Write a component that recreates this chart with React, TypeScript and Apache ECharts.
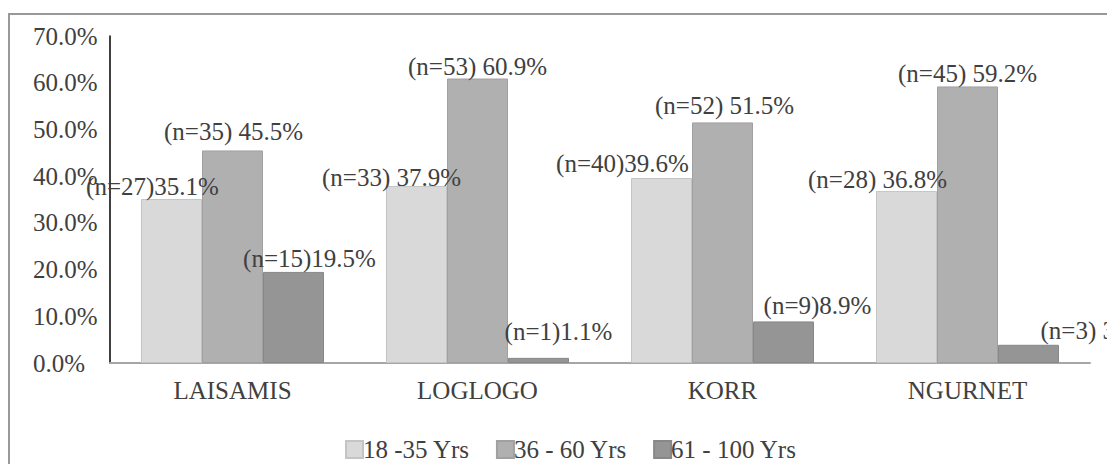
import React, { useEffect, useRef } from "react";
import * as echarts from "echarts";

const categories = ["LAISAMIS", "LOGLOGO", "KORR", "NGURNET"];
const seriesNames = ["18 -35 Yrs", "36 - 60 Yrs", "61 - 100 Yrs"];
const pct18to35 = [35.1, 37.9, 39.6, 36.8];
const pct36to60 = [45.5, 60.9, 51.5, 59.2];
const pct61to100 = [19.5, 1.1, 8.9, 3.9];
const n18to35 = [27, 33, 40, 28];
const n36to60 = [35, 53, 52, 45];
const n61to100 = [15, 1, 9, 3];
const yTicks = [0, 10, 20, 30, 40, 50, 60, 70];

// label texts as printed in the source (spacing kept)
const labelSpace18 = ["", " ", "", " "];
const labelSpace36 = [" ", " ", " ", " "];
const labelSpace61 = ["", "", "", " "];

// manual label nudges (style only)
const off18 = [[-19, 0], [-25, 4], [-39, -2], [-29, 1]];
const off36 = [[1, -6], [0, 0], [2, -4], [0, 0]];
const off61 = [[16, -1], [20, -14], [34, -3], [69, -2]];

const colors = ["#d9d9d9", "#b0b0b0", "#959595"];
const borders = ["#c4c4c4", "#a0a0a0", "#888888"];
const FONT = "Liberation Serif";
const TEXT = "#404040";
const FS = 25;
const W = 1105;
const H = 456;

export default function App() {
  const ref = useRef<HTMLDivElement>(null);
  useEffect(() => {
    if (!ref.current) return;
    document.documentElement.style.overflow = "hidden";
    document.body.style.overflow = "hidden";
    const chart = echarts.init(ref.current, null, { renderer: "svg" });
    const mk = (
      idx: number,
      vals: number[],
      ns: number[],
      spaces: string[],
      offs: number[][]
    ) => ({
      name: seriesNames[idx],
      type: "bar",
      barWidth: 61,
      barGap: "0%",
      itemStyle: { color: colors[idx], borderColor: borders[idx], borderWidth: 1 },
      data: vals.map((v, i) => ({
        value: v,
        label: {
          show: true,
          position: "top",
          distance: 0,
          offset: offs[i],
          formatter: `(n=${ns[i]})${spaces[i]}${v.toFixed(1)}%`,
          fontFamily: FONT,
          fontSize: FS,
          color: TEXT,
        },
      })),
    });
    chart.setOption({
      animation: false,
      textStyle: { fontFamily: FONT, fontSize: FS, color: TEXT },
      grid: { left: 102, right: 23, top: 28, bottom: H - 355 },
      legend: {
        left: 332,
        top: 424,
        itemWidth: 17,
        itemHeight: 17,
        itemGap: 26,
        icon: "rect",
        textStyle: { fontFamily: FONT, fontSize: FS, color: TEXT, padding: [0, 0, 0, -5] },
        data: seriesNames,
      },
      xAxis: {
        type: "category",
        data: categories,
        axisLine: { show: true, lineStyle: { color: "#a6a6a6", width: 2 } },
        axisTick: { show: false },
        axisLabel: { fontFamily: FONT, fontSize: FS, color: TEXT, margin: 15 },
      },
      yAxis: {
        type: "value",
        min: yTicks[0],
        max: yTicks[yTicks.length - 1],
        interval: 10,
        axisLine: { show: true, lineStyle: { color: "#000000", width: 1.5 } },
        axisTick: { show: false },
        splitLine: { show: false },
        axisLabel: {
          fontFamily: FONT,
          fontSize: FS,
          color: TEXT,
          align: "left",
          margin: 77,
          formatter: (v: number) => v.toFixed(1) + "%",
        },
      },
      series: [
        mk(0, pct18to35, n18to35, labelSpace18, off18),
        mk(1, pct36to60, n36to60, labelSpace36, off36),
        mk(2, pct61to100, n61to100, labelSpace61, off61),
      ],
    });
    return () => chart.dispose();
  }, []);
  return (
    <div
      style={{
        position: "relative",
        width: W,
        height: H,
        overflow: "hidden",
        background: "#ffffff",
      }}
    >
      <div ref={ref} style={{ position: "absolute", left: 0, top: 0, width: W, height: H, zIndex: 1 }} />
      <div
        style={{
          position: "absolute",
          left: 0,
          top: 5,
          width: 1100,
          height: 520,
          borderTop: "2px solid #999999",
          borderLeft: "2px solid #999999",
          borderRight: "2px solid #999999",
          pointerEvents: "none",
          zIndex: 5,
        }}
      />
    </div>
  );
}
